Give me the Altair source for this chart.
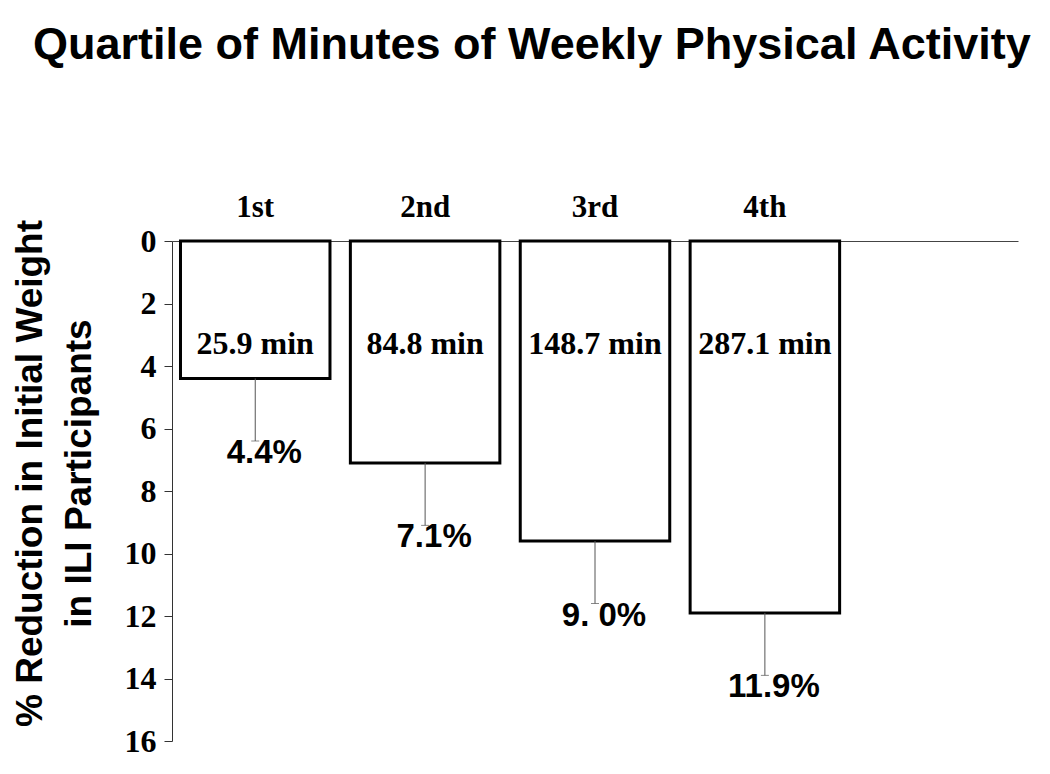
import altair as alt
import pandas as pd

quartile = ["1st", "2nd", "3rd", "4th"]
reduction = [4.4, 7.1, 9.6, 11.9]
err_upper = [6.4, 9.1, 11.6, 13.9]
minutes_label = ["25.9 min", "84.8 min", "148.7 min", "287.1 min"]
pct_label = ["4.4%", "7.1%", "9. 0%", "11.9%"]
x_domain = quartile + [" "]
y_ticks = [0, 2, 4, 6, 8, 10, 12, 14, 16]

df = pd.DataFrame({
    "quartile": quartile,
    "reduction": reduction,
    "upper": err_upper,
    "minutes": minutes_label,
    "pct": pct_label,
})

SANS = "Liberation Sans"
SERIF = "Liberation Serif"

x_enc = alt.X(
    "quartile:N",
    sort=x_domain,
    scale=alt.Scale(domain=x_domain, paddingInner=0.12, paddingOuter=0.05),
    axis=alt.Axis(
        orient="top", title=None, ticks=False, tickSize=0, labelAngle=0,
        labelFont=SERIF, labelFontWeight="bold", labelFontSize=31,
        labelColor="black", labelPadding=18,
        domainColor="#444444", domainWidth=1,
    ),
)

y_scale = alt.Scale(domain=[0, 16], reverse=True, nice=False, zero=True)

bars = alt.Chart(df).mark_bar(
    fill="white", stroke="black", strokeWidth=3
).encode(
    x=x_enc,
    y=alt.Y(
        "reduction:Q",
        scale=y_scale,
        axis=alt.Axis(
            values=y_ticks, grid=False, tickSize=8, labelPadding=8,
            labelFont=SERIF, labelFontWeight="bold", labelFontSize=32,
            labelColor="black", domainColor="#333333", tickColor="#333333",
            title=["% Reduction in Initial Weight", "in ILI Participants"],
            titleFont=SANS, titleFontWeight="bold", titleFontSize=37,
            titleColor="black", titleAngle=-90, titleAlign="center",
            titleBaseline="top", titleX=-160, titleY=232, titleLineHeight=49,
        ),
    ),
)

err = alt.Chart(df).mark_rule(color="#555555", strokeWidth=1).encode(
    x=alt.X("quartile:N", sort=x_domain),
    y=alt.Y("reduction:Q"),
    y2="upper:Q",
)

caps = alt.Chart(df).mark_tick(color="#555555", thickness=1, size=8).encode(
    x=alt.X("quartile:N", sort=x_domain),
    y=alt.Y("upper:Q"),
)

pct = alt.Chart(df).mark_text(
    font=SANS, fontWeight="bold", fontSize=33, color="black",
    baseline="alphabetic", dx=9, dy=22,
).encode(
    x=alt.X("quartile:N", sort=x_domain),
    y=alt.Y("upper:Q"),
    text="pct:N",
)

mins = alt.Chart(df).mark_text(
    font=SERIF, fontWeight="bold", fontSize=32, color="black",
    baseline="alphabetic",
).encode(
    x=alt.X("quartile:N", sort=x_domain),
    y=alt.datum(3.6),
    text="minutes:N",
)

chart = alt.layer(bars, err, caps, pct, mins).properties(
    width=846,
    height=500,
    autosize=alt.AutoSizeParams(type="none"),
    padding={"left": 164, "top": 233, "right": 24, "bottom": 22},
    title=alt.TitleParams(
        text="Quartile of Minutes of Weekly Physical Activity",
        font=SANS, fontWeight="bold", fontSize=45, color="black",
        anchor="start", frame="group", dx=-139, dy=-119,
    ),
).configure_view(stroke=None)

chart.save("out.html", embed_options={"renderer": "svg", "actions": False})
